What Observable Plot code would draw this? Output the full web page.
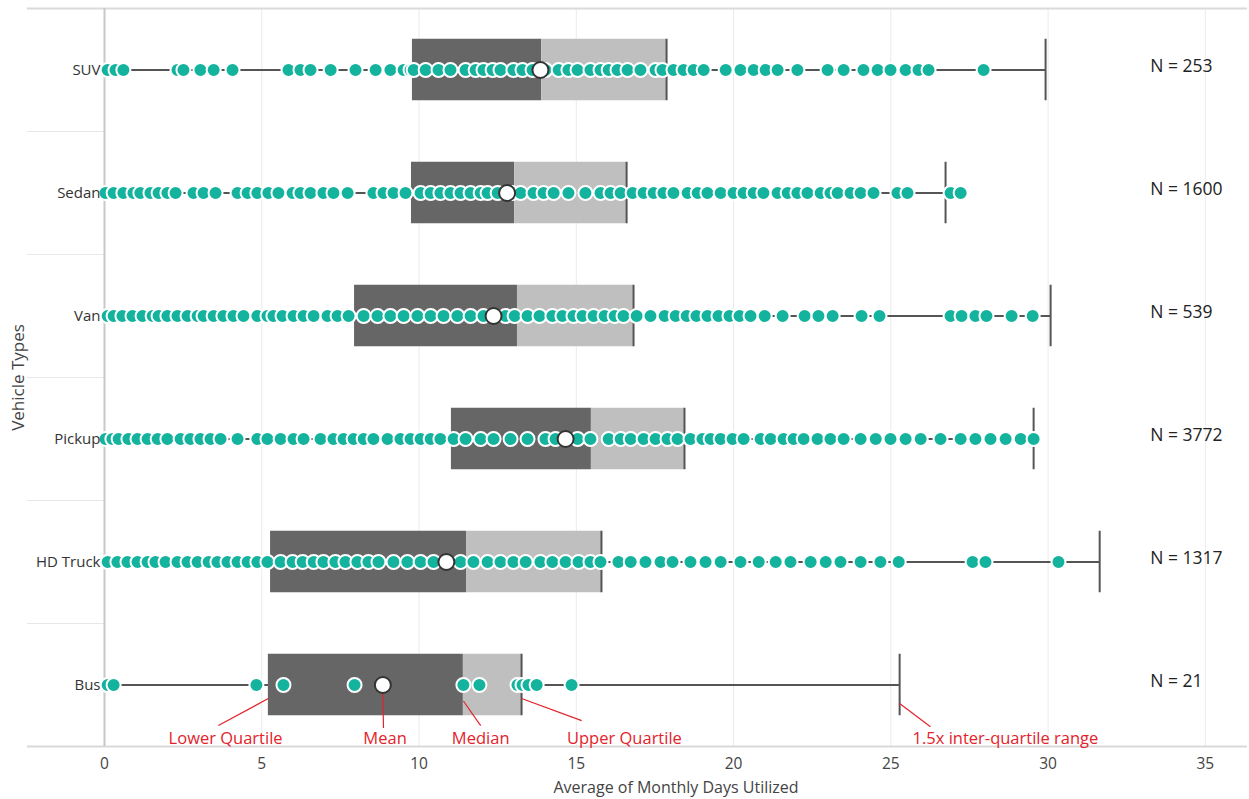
<!DOCTYPE html>
<html>
<head>
<meta charset="utf-8">
<script src="https://cdn.jsdelivr.net/npm/d3@7"></script>
<script src="https://cdn.jsdelivr.net/npm/@observablehq/plot@0.6"></script>
<style>
  body { margin: 0; background: #fff; }
</style>
</head>
<body>
<div id="chart"></div>
<script>
// ---- data ----
const categories = ["SUV", "Sedan", "Van", "Pickup", "HD Truck", "Bus"];
const counts = [253, 1600, 539, 3772, 1317, 21];
const q1 = [9.79, 9.76, 7.95, 11.03, 5.28, 5.21];
const median = [13.9, 13.04, 13.13, 15.48, 11.51, 11.41];
const q3 = [17.87, 16.6, 16.82, 18.44, 15.8, 13.26];
const mean = [13.86, 12.8, 12.37, 14.66, 10.87, 8.85];
const whiskerHigh = [29.92, 26.74, 30.08, 29.54, 31.64, 25.28];
const xTicks = [0, 5, 10, 15, 20, 25, 30, 35];

const dotsSUV = [0.10, 0.35, 0.60, 2.32, 2.51, 3.05, 3.47, 4.07, 5.85, 6.23, 6.55, 7.19, 7.98, 8.62, 9.09, 9.51, 9.73,
  9.83, 10.21, 10.62, 11.00, 11.48, 11.80, 12.05, 12.34, 12.59, 13.00, 13.29, 13.61, 14.02, 14.44, 14.75, 15.04, 15.45,
  15.77, 16.03, 16.31, 16.63, 17.04, 17.52, 17.74, 18.09, 18.41, 18.73, 19.05, 19.75, 20.22, 20.64, 21.02, 21.40,
  22.03, 22.99, 23.50, 24.13, 24.58, 24.99, 25.47, 25.88, 26.20, 27.95];
const dotsSedan = [0.03, 0.29, 0.60, 0.92, 1.14, 1.46, 1.72, 2.00, 2.26, 2.83, 3.15, 3.53, 4.23, 4.55, 4.86, 5.21, 5.53,
  5.98, 6.23, 6.55, 6.96, 7.28, 7.73, 8.55, 8.87, 9.19, 9.57, 10.05, 10.37, 10.68, 11.00, 11.32, 11.64, 11.96, 12.18,
  12.50, 12.97, 13.23, 13.64, 13.96, 14.28, 14.75, 15.29, 15.77, 16.09, 16.41, 16.79, 17.14, 17.46, 17.77, 18.09,
  18.54, 18.86, 19.17, 19.59, 20.00, 20.32, 20.64, 20.95, 21.40, 21.72, 22.03, 22.35, 22.77, 23.08, 23.31, 23.72,
  24.04, 24.45, 25.21, 25.53, 26.90, 27.22];
const dotsVan = [0.10, 0.29, 0.57, 0.89, 1.21, 1.53, 1.72, 2.00, 2.32, 2.64, 2.96, 3.15, 3.47, 3.78, 4.10, 4.42, 4.86,
  5.18, 5.37, 5.66, 6.01, 6.33, 6.65, 7.09, 7.41, 7.76, 8.24, 8.68, 9.09, 9.51, 9.95, 10.37, 10.78, 11.22, 11.64,
  12.05, 12.75, 13.04, 13.45, 13.83, 14.24, 14.56, 14.91, 15.20, 15.55, 15.90, 16.22, 16.50, 16.92, 17.36, 17.81,
  18.16, 18.51, 18.82, 19.17, 19.52, 19.87, 20.19, 20.54, 20.99, 21.56, 22.26, 22.70, 23.15, 24.07, 24.64, 26.90,
  27.25, 27.69, 28.04, 28.84, 29.51];
const dotsPickup = [0.03, 0.25, 0.45, 0.76, 1.05, 1.37, 1.69, 2.00, 2.42, 2.73, 3.05, 3.37, 3.69, 4.23, 4.86, 5.18,
  5.60, 6.01, 6.33, 6.87, 7.28, 7.60, 7.92, 8.24, 8.55, 9.00, 9.41, 9.73, 10.05, 10.37, 10.68, 11.10, 11.48, 11.96,
  12.37, 12.91, 13.45, 14.02, 14.34, 15.04, 15.45, 16.03, 16.41, 16.73, 17.14, 17.52, 17.90, 18.22, 18.63, 19.01,
  19.27, 19.59, 19.97, 20.32, 20.86, 21.18, 21.59, 21.91, 22.23, 22.67, 23.08, 23.50, 24.04, 24.52, 24.99, 25.47,
  25.95, 26.58, 27.22, 27.69, 28.17, 28.65, 29.13, 29.54];
const dotsHDTruck = [0.10, 0.41, 0.73, 1.05, 1.37, 1.62, 1.94, 2.32, 2.64, 2.96, 3.31, 3.59, 3.91, 4.23, 4.55, 4.86,
  5.18, 5.60, 5.98, 6.30, 6.65, 6.96, 7.34, 7.66, 8.04, 8.39, 8.71, 9.19, 9.63, 10.05, 10.46, 11.32, 11.73, 12.18,
  12.59, 13.00, 13.39, 13.86, 14.24, 14.66, 15.07, 15.45, 15.77, 16.34, 16.73, 17.20, 17.68, 18.06, 18.63, 19.11,
  19.59, 20.22, 20.80, 21.34, 21.81, 22.45, 22.93, 23.40, 24.04, 24.67, 25.25, 27.60, 28.01, 30.33];
const dotsBus = [0.10, 0.29, 4.83, 5.69, 7.95, 11.41, 11.92, 13.13, 13.29, 13.48, 13.74, 14.85];

const annotationLabels = ["Lower Quartile", "Mean", "Median", "Upper Quartile", "1.5x inter-quartile range"];
const annotationStart = [q1[5], mean[5], median[5], q3[5], whiskerHigh[5]];
const annotationEnd = [3.62, 8.87, 11.96, 15.17, 26.26];
const annotationTextX = [3.85, 8.92, 11.96, 16.53, 25.69];

// ---- tables ----
const stats = categories.map((c, i) => ({
  i, c, n: counts[i], q1: q1[i], median: median[i], q3: q3[i], mean: mean[i], hi: whiskerHigh[i]
}));
const dotRows = [dotsSUV, dotsSedan, dotsVan, dotsPickup, dotsHDTruck, dotsBus];
const points = dotRows.flatMap((arr, i) => arr.map(v => ({i, v})));
const busRow = 5;
const annotations = annotationLabels.map((label, k) => ({
  label, k,
  x1: annotationStart[k], x2: annotationEnd[k], tx: annotationTextX[k],
  y1: busRow + [0.11, 0.075, 0.13, 0.11, 0.15][k],
  y2: busRow + [0.33, 0.35, 0.33, 0.29, 0.34][k]
}));

const H = 0.25; // half box height in row units
const xMax = 36.34;
const xLeft = -2.45;
const teal = "#14b39e";
const red = "#e3232b";

const chart = Plot.plot({
  width: 1249,
  height: 799,
  marginLeft: 104,
  marginRight: 2,
  marginTop: 8,
  marginBottom: 53,
  x: {domain: [0, xMax]},
  y: {domain: [5.5, -0.5]},
  style: {fontFamily: "'Segoe UI', 'Open Sans', sans-serif", fontSize: "15px", color: "#444", background: "white", overflow: "visible"},
  marks: [
    Plot.ruleX(xTicks.filter(t => t > 0), {y1: -0.5, y2: 5.5, stroke: "#ebebeb", strokeWidth: 1}),
    Plot.ruleY(d3.range(7).map(i => i - 0.5), {x1: xLeft, x2: 0, stroke: "#e8e8e8", strokeWidth: 1}),
    Plot.ruleY([-0.5, 5.5], {x1: xLeft, x2: xMax, stroke: "#d9d9d9", strokeWidth: 2}),
    Plot.ruleX([0], {y1: -0.5, y2: 5.5, stroke: "#c8c8c8", strokeWidth: 2}),
    // whisker line
    Plot.ruleY(stats, {y: "i", x1: d => 0, x2: "hi", stroke: "#555", strokeWidth: 2}),
    // box
    Plot.rect(stats, {x1: "q1", x2: "median", y1: d => d.i - H, y2: d => d.i + H, fill: "#666"}),
    Plot.rect(stats, {x1: "median", x2: "q3", y1: d => d.i - H, y2: d => d.i + H, fill: "#bfbfbf"}),
    Plot.ruleX(stats, {x: "q3", y1: d => d.i - H, y2: d => d.i + H, stroke: "#555", strokeWidth: 2}),
    Plot.ruleX(stats, {x: "hi", y1: d => d.i - H, y2: d => d.i + H, stroke: "#555", strokeWidth: 2}),
    // points
    Plot.dot(points, {x: "v", y: "i", r: 7, fill: teal, stroke: "white", strokeWidth: 2}),
    // mean
    Plot.dot(stats, {x: "mean", y: "i", r: 8, fill: "white", stroke: "#333", strokeWidth: 2}),
    // N labels
    Plot.text(stats, {x: d => 33.25, y: "i", text: d => `N = ${d.n}`, textAnchor: "start", dy: -4, fontSize: 17.5, fill: "#222"}),
    // annotations
    Plot.link(annotations, {x1: "x1", y1: "y1", x2: "x2", y2: "y2", stroke: red, strokeWidth: 1.2}),
    Plot.text(annotations.filter(d => d.k < 4), {x: "tx", y: d => busRow + 0.44, text: "label", textAnchor: "middle", fill: red, fontSize: 16.5}),
    Plot.text(annotations.filter(d => d.k === 4), {x: "tx", y: d => busRow + 0.44, text: "label", textAnchor: "start", fill: red, fontSize: 16.5}),
    // axes
    Plot.axisX({ticks: xTicks, tickSize: 0, tickPadding: 11, fontSize: 15.5, label: null}),
    Plot.text(["Average of Monthly Days Utilized"], {frameAnchor: "bottom", lineAnchor: "middle", dy: 41, fontSize: 16, fill: "#444", text: d => d}),
    Plot.axisY({ticks: d3.range(6), tickFormat: i => categories[i], tickSize: 0, tickPadding: 4, fontSize: 15, fill: "#333", label: null}),
    Plot.text(["Vehicle Types"], {frameAnchor: "left", rotate: -90, textAnchor: "middle", lineAnchor: "middle", dx: -86, fontSize: 17, fill: "#444", text: d => d})
  ]
});
document.getElementById("chart").appendChild(chart);
</script>
</body>
</html>
